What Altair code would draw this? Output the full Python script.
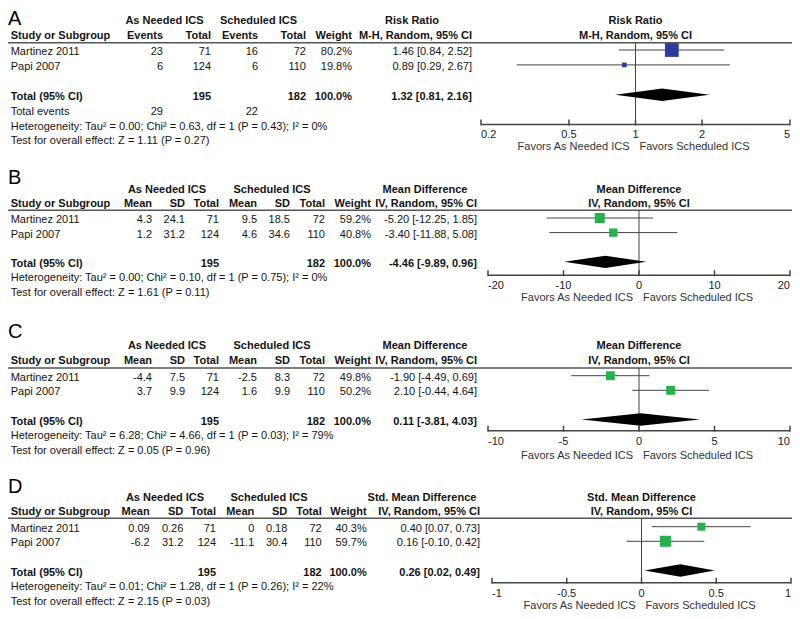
import altair as alt
import pandas as pd

# ---------------- data ----------------
studies = ["Martinez 2011", "Papi 2007"]
total_an = [71, 124]
total_sc = [72, 110]

# A: exacerbations, risk ratio
a_events_an = [23, 6]
a_events_sc = [16, 6]
a_weight = [80.2, 19.8]
a_est = [1.46, 0.89]
a_lo = [0.84, 0.29]
a_hi = [2.52, 2.67]
a_overall = [1.32, 0.81, 2.16]
a_total_events = [29, 22]
a_het = [0.00, 0.63, 1, 0.43, 0]      # Tau2, Chi2, df, P, I2
a_test = [1.11, 0.27]                  # Z, P
a_ticks = [0.2, 0.5, 1, 2, 5]

# B: mean difference
b_mean_an = [4.3, 1.2]
b_sd_an = [24.1, 31.2]
b_mean_sc = [9.5, 4.6]
b_sd_sc = [18.5, 34.6]
b_weight = [59.2, 40.8]
b_est = [-5.20, -3.40]
b_lo = [-12.25, -11.88]
b_hi = [1.85, 5.08]
b_overall = [-4.46, -9.89, 0.96]
b_het = [0.00, 0.10, 1, 0.75, 0]
b_test = [1.61, 0.11]
b_ticks = [-20, -10, 0, 10, 20]

# C: mean difference
c_mean_an = [-4.4, 3.7]
c_sd_an = [7.5, 9.9]
c_mean_sc = [-2.5, 1.6]
c_sd_sc = [8.3, 9.9]
c_weight = [49.8, 50.2]
c_est = [-1.90, 2.10]
c_lo = [-4.49, -0.44]
c_hi = [0.69, 4.64]
c_overall = [0.11, -3.81, 4.03]
c_het = [6.28, 4.66, 1, 0.03, 79]
c_test = [0.05, 0.96]
c_ticks = [-10, -5, 0, 5, 10]

# D: standardised mean difference
d_mean_an = [0.09, -6.2]
d_sd_an = [0.26, 31.2]
d_mean_sc = [0, -11.1]
d_sd_sc = [0.18, 30.4]
d_weight = [40.3, 59.7]
d_est = [0.40, 0.16]
d_lo = [0.07, -0.10]
d_hi = [0.73, 0.42]
d_overall = [0.26, 0.02, 0.49]
d_het = [0.01, 1.28, 1, 0.26, 22]
d_test = [2.15, 0.03]
d_ticks = [-1, -0.5, 0, 0.5, 1]

groups = ["As Needed ICS", "Scheduled ICS"]
favors = ["Favors As Needed ICS", "Favors Scheduled ICS"]

# ---------------- styles / layout ----------------
W, H = 784, 603
FONT = "Liberation Sans"
TXT = "#141414"
LINE = "#444444"
BLUE = "#2d3c9c"
GREEN = "#26b14b"


def cx(page_x):
    return page_x - 8


md_cols = ["Mean", "SD", "Total", "Mean", "SD", "Total"]
panels = [
    dict(letter="A", log=True, null=1, color=BLUE,
         measure=("Risk Ratio", "M-H, Random, 95% CI"),
         sub=["Events", "Total", "Events", "Total"],
         cols=[a_events_an, total_an, a_events_sc, total_sc], tot_idx=[1, 3],
         weight=a_weight, est=a_est, lo=a_lo, hi=a_hi, overall=a_overall,
         het=a_het, test=a_test, ticks=a_ticks, total_events=a_total_events),
    dict(letter="B", log=False, null=0, color=GREEN,
         measure=("Mean Difference", "IV, Random, 95% CI"), sub=md_cols,
         cols=[b_mean_an, b_sd_an, total_an, b_mean_sc, b_sd_sc, total_sc], tot_idx=[2, 5],
         weight=b_weight, est=b_est, lo=b_lo, hi=b_hi, overall=b_overall,
         het=b_het, test=b_test, ticks=b_ticks, total_events=None),
    dict(letter="C", log=False, null=0, color=GREEN,
         measure=("Mean Difference", "IV, Random, 95% CI"), sub=md_cols,
         cols=[c_mean_an, c_sd_an, total_an, c_mean_sc, c_sd_sc, total_sc], tot_idx=[2, 5],
         weight=c_weight, est=c_est, lo=c_lo, hi=c_hi, overall=c_overall,
         het=c_het, test=c_test, ticks=c_ticks, total_events=None),
    dict(letter="D", log=False, null=0, color=GREEN,
         measure=("Std. Mean Difference", "IV, Random, 95% CI"), sub=md_cols,
         cols=[d_mean_an, d_sd_an, total_an, d_mean_sc, d_sd_sc, total_sc], tot_idx=[2, 5],
         weight=d_weight, est=d_est, lo=d_lo, hi=d_hi, overall=d_overall,
         het=d_het, test=d_test, ticks=d_ticks, total_events=None),
]

layouts = [
    dict(top=0, bottom=150, m0=42, pitch=14.9,
         col_x=[163, 211, 258, 306], weight_x=352, ci_x=472, group_x=[164.5, 258.5], measure_x=412,
         rows=dict(letter=-1.66, h1=-2.08, h2=-1.09, hline=-0.49, tevents=4, het=5, test=6,
                   axis=5.0, ticklab=5.55, favors=6.38),
         xrange=[481, 790], size_dom=[19.8, 80.2], size_rng=[22, 190]),
    dict(top=150, bottom=305, m0=210, pitch=14.6,
         col_x=[152, 185, 219, 257, 290, 325], weight_x=371, ci_x=477, group_x=[167, 272], measure_x=425,
         rows=dict(letter=-2.33, h1=-2.08, h2=-1.13, hline=-0.53, het=4, test=5,
                   axis=3.92, ticklab=4.52, favors=5.36),
         xrange=[488, 790], size_dom=[40.8, 59.2], size_rng=[70, 100]),
    dict(top=305, bottom=460, m0=367.7, pitch=14.6,
         col_x=[152, 185, 219, 257, 290, 325], weight_x=371, ci_x=477, group_x=[167, 272], measure_x=425,
         rows=dict(letter=-2.6, h1=-2.19, h2=-1.16, hline=-0.53, het=4, test=5,
                   axis=3.77, ticklab=4.42, favors=5.34),
         xrange=[488, 790], size_dom=[49.8, 50.2], size_rng=[80, 80]),
    dict(top=460, bottom=603, m0=518.7, pitch=14.6,
         col_x=[149.7, 183.3, 216, 254.3, 287.3, 321.7], weight_x=366.7, ci_x=480, group_x=[165, 269], measure_x=422,
         rows=dict(letter=-2.31, h1=-2.12, h2=-1.14, hline=-0.58, het=4, test=5,
                   axis=3.84, ticklab=4.45, favors=5.27),
         xrange=[492, 791], size_dom=[40.3, 59.7], size_rng=[64, 121]),
]

STUDY_X = 10.7
TOTAL_ROW = 3
DIAMOND_HALF = 0.42


def ci_text(e, l, h):
    return f"{e:.2f} [{l:.2f}, {h:.2f}]"


def build(d, L):
    top, bot, m0, p = L["top"], L["bottom"], L["m0"], L["pitch"]
    R = L["rows"]
    ydom = [(top - m0) / p, (bot - m0) / p]
    yscale = alt.Scale(domain=ydom, range=[top, bot], nice=False, zero=False)

    def Y(f="row"):
        return alt.Y(f"{f}:Q", scale=yscale, axis=None)

    if d["log"]:
        xscale = alt.Scale(type="log", domain=[d["ticks"][0], d["ticks"][-1]],
                           range=[cx(L["xrange"][0]), cx(L["xrange"][1])], nice=False)
    else:
        xscale = alt.Scale(domain=[d["ticks"][0], d["ticks"][-1]],
                           range=[cx(L["xrange"][0]), cx(L["xrange"][1])], nice=False, zero=False)

    def X(f):
        return alt.X(f"{f}:Q", scale=xscale, axis=None)

    items = []

    def add(row, x, text, align, bold=False):
        items.append(dict(row=row, x=cx(x), text=str(text), align=align, bold=bold))

    # header rows
    add(R["h1"], L["group_x"][0], groups[0], "center", True)
    add(R["h1"], L["group_x"][1], groups[1], "center", True)
    add(R["h1"], L["measure_x"], d["measure"][0], "center", True)
    add(R["h2"], STUDY_X, "Study or Subgroup", "left", True)
    for x, s in zip(L["col_x"], d["sub"]):
        add(R["h2"], x, s, "right", True)
    add(R["h2"], L["weight_x"], "Weight", "right", True)
    add(R["h2"], L["ci_x"], d["measure"][1], "right", True)
    # study rows
    for i, s in enumerate(studies):
        add(i, STUDY_X, s, "left")
        for x, col in zip(L["col_x"], d["cols"]):
            add(i, x, col[i], "right")
        add(i, L["weight_x"], f"{d['weight'][i]:.1f}%", "right")
        add(i, L["ci_x"], ci_text(d["est"][i], d["lo"][i], d["hi"][i]), "right")
    # total row
    add(TOTAL_ROW, STUDY_X, "Total (95% CI)", "left", True)
    for k in d["tot_idx"]:
        add(TOTAL_ROW, L["col_x"][k], sum(d["cols"][k]), "right", True)
    add(TOTAL_ROW, L["weight_x"], f"{sum(d['weight']):.1f}%", "right", True)
    add(TOTAL_ROW, L["ci_x"], ci_text(*d["overall"]), "right", True)
    if d["total_events"] is not None:
        add(R["tevents"], STUDY_X, "Total events", "left")
        add(R["tevents"], L["col_x"][0], d["total_events"][0], "right")
        add(R["tevents"], L["col_x"][2], d["total_events"][1], "right")
    tau, chi, df_, pv, i2 = d["het"]
    add(R["het"], STUDY_X,
        f"Heterogeneity: Tau\u00b2 = {tau:.2f}; Chi\u00b2 = {chi:.2f}, df = {df_} (P = {pv:.2f}); I\u00b2 = {i2}%",
        "left")
    add(R["test"], STUDY_X, f"Test for overall effect: Z = {d['test'][0]:.2f} (P = {d['test'][1]:.2f})", "left")

    tdf = pd.DataFrame(items)
    layers = []
    for (x, align, bold), g in tdf.groupby(["x", "align", "bold"], sort=False):
        layers.append(
            alt.Chart(g[["row", "text"]].reset_index(drop=True))
            .mark_text(align=align, baseline="middle", dy=2, font=FONT, fontSize=11,
                       fontWeight="bold" if bold else "normal", color=TXT)
            .encode(x=alt.value(x), y=Y(), text="text:N")
        )

    # panel letter
    layers.append(
        alt.Chart(pd.DataFrame({"row": [R["letter"]], "text": [d["letter"]]}))
        .mark_text(align="left", baseline="alphabetic", font=FONT, fontSize=20, color="#000000")
        .encode(x=alt.value(0), y=Y(), text="text:N")
    )

    # header underline
    layers.append(
        alt.Chart(pd.DataFrame({"row": [R["hline"]]}))
        .mark_rule(color="#555555", strokeWidth=1.5)
        .encode(x=alt.value(0), x2=alt.value(W), y=Y())
    )

    # forest header
    fh = pd.DataFrame({"v": [d["null"], d["null"]], "row": [R["h1"], R["h2"]], "text": list(d["measure"])})
    layers.append(
        alt.Chart(fh).mark_text(align="center", baseline="middle", dy=2, font=FONT, fontSize=11,
                                fontWeight="bold", color=TXT)
        .encode(x=X("v"), y=Y(), text="text:N")
    )

    # null line
    layers.append(
        alt.Chart(pd.DataFrame({"v": [d["null"]], "r1": [R["hline"]], "r2": [R["axis"]]}))
        .mark_rule(color=LINE, strokeWidth=1)
        .encode(x=X("v"), y=Y("r1"), y2="r2:Q")
    )

    # axis line and ticks
    t = d["ticks"]
    layers.append(
        alt.Chart(pd.DataFrame({"a": [t[0]], "b": [t[-1]], "row": [R["axis"]]}))
        .mark_rule(color=LINE, strokeWidth=1.5)
        .encode(x=X("a"), x2="b:Q", y=Y())
    )
    layers.append(
        alt.Chart(pd.DataFrame({"t": t, "r1": [R["axis"] - 5 / p] * len(t), "r2": [R["axis"] + 1 / p] * len(t)}))
        .mark_rule(color=LINE, strokeWidth=1.5)
        .encode(x=X("t"), y=Y("r1"), y2="r2:Q")
    )
    labs = pd.DataFrame({"t": t, "row": [R["ticklab"]] * len(t), "text": [f"{v:g}" for v in t]})
    for align, sub in (("left", labs.iloc[:1]), ("center", labs.iloc[1:-1]), ("right", labs.iloc[-1:])):
        layers.append(
            alt.Chart(sub.reset_index(drop=True))
            .mark_text(align=align, baseline="middle", dy=2, font=FONT, fontSize=11, color="#222222")
            .encode(x=X("t"), y=Y(), text="text:N")
        )
    # favors labels
    for align, dx, txt in (("right", -6, favors[0]), ("left", 4, favors[1])):
        layers.append(
            alt.Chart(pd.DataFrame({"v": [d["null"]], "row": [R["favors"]], "text": [txt]}))
            .mark_text(align=align, baseline="middle", dy=2, dx=dx, font=FONT, fontSize=11, color="#333333")
            .encode(x=X("v"), y=Y(), text="text:N")
        )

    # study CIs and squares
    sdf = pd.DataFrame({"row": list(range(len(studies))), "est": d["est"], "lo": d["lo"],
                        "hi": d["hi"], "weight": d["weight"]})
    layers.append(
        alt.Chart(sdf).mark_rule(color=LINE, strokeWidth=1)
        .encode(x=X("lo"), x2="hi:Q", y=Y())
    )
    layers.append(
        alt.Chart(sdf).mark_square(filled=True, opacity=1, color=d["color"])
        .encode(x=X("est"), y=Y(),
                size=alt.Size("weight:Q", scale=alt.Scale(domain=L["size_dom"], range=L["size_rng"]),
                              legend=None))
    )
    # pooled diamond
    e, lo, hi = d["overall"]
    ddf = pd.DataFrame({"x": [lo, e, hi],
                        "y1": [TOTAL_ROW, TOTAL_ROW - DIAMOND_HALF, TOTAL_ROW],
                        "y2": [TOTAL_ROW, TOTAL_ROW + DIAMOND_HALF, TOTAL_ROW]})
    layers.append(
        alt.Chart(ddf).mark_area(color="#000000", opacity=1, orient="vertical")
        .encode(x=X("x"), y=Y("y1"), y2="y2:Q")
    )
    return alt.layer(*layers)


chart = (
    alt.layer(*[build(d, L) for d, L in zip(panels, layouts)])
    .resolve_scale(x="independent", y="independent", size="independent")
    .properties(width=W, height=H, padding=0, autosize=alt.AutoSizeParams(type="none"),
                background="#ffffff")
    .configure_view(stroke=None)
)

chart.save("out.html", embed_options={"renderer": "svg", "actions": False})
